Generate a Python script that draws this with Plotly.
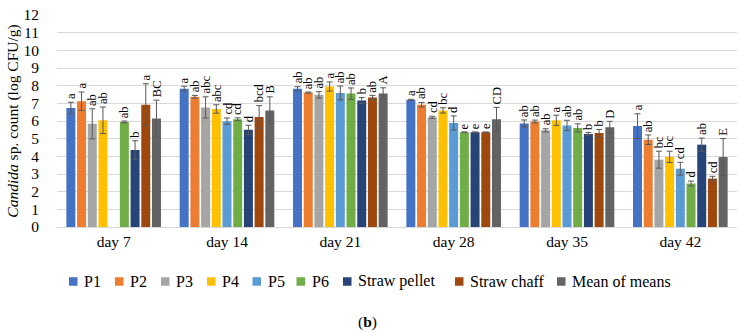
import plotly.graph_objects as go

days = ["day 7", "day 14", "day 21", "day 28", "day 35", "day 42"]
series = ["P1", "P2", "P3", "P4", "P5", "P6", "Straw pellet", "Straw chaff", "Mean of means"]
colors = ["#4472C4", "#ED7D31", "#A5A5A5", "#FFC000", "#5B9BD5", "#70AD47", "#264478", "#9E480E", "#636363"]

P1 = [6.73, 7.83, 7.82, 7.20, 5.86, 5.71]
P2 = [7.12, 7.37, 7.61, 6.92, 5.97, 4.94]
P3 = [5.84, 6.77, 7.48, 6.21, 5.47, 3.81]
P4 = [6.04, 6.68, 7.95, 6.60, 6.04, 3.97]
P5 = [None, 5.99, 7.59, 5.89, 5.75, 3.30]
P6 = [5.95, 6.10, 7.55, 5.37, 5.61, 2.46]
straw_pellet = [4.36, 5.50, 7.16, 5.37, 5.26, 4.66]
straw_chaff = [6.92, 6.23, 7.33, 5.37, 5.32, 2.74]
mean_of_means = [6.14, 6.60, 7.55, 6.10, 5.65, 3.96]

P1_err = [0.33, 0.14, 0.12, 0.03, 0.20, 0.70]
P2_err = [0.52, 0.08, 0.03, 0.13, 0.08, 0.27]
P3_err = [0.85, 0.60, 0.18, 0.06, 0.09, 0.48]
P4_err = [0.75, 0.24, 0.26, 0.15, 0.29, 0.32]
P5_err = [None, 0.18, 0.39, 0.40, 0.29, 0.36]
P6_err = [0.05, 0.08, 0.32, 0.0, 0.23, 0.14]
straw_pellet_err = [0.52, 0.26, 0.17, 0.0, 0.09, 0.37]
straw_chaff_err = [1.19, 0.64, 0.12, 0.0, 0.20, 0.13]
mean_of_means_err = [1.04, 0.77, 0.33, 0.67, 0.33, 1.05]

P1_lbl = ["a", "a", "ab", "a", "ab", "a"]
P2_lbl = ["a", "ab", "ab", "ab", "ab", "ab"]
P3_lbl = ["ab", "abc", "ab", "cd", "ab", "bc"]
P4_lbl = ["ab", "abc", "a", "bc", "a", "bc"]
P5_lbl = ["", "cd", "ab", "d", "ab", "cd"]
P6_lbl = ["ab", "cd", "ab", "e", "ab", "d"]
straw_pellet_lbl = ["b", "d", "b", "e", "b", "ab"]
straw_chaff_lbl = ["a", "bcd", "ab", "e", "b", "cd"]
mean_of_means_lbl = ["BC", "B", "A", "CD", "D", "E"]

values = [P1, P2, P3, P4, P5, P6, straw_pellet, straw_chaff, mean_of_means]
errors = [P1_err, P2_err, P3_err, P4_err, P5_err, P6_err, straw_pellet_err, straw_chaff_err, mean_of_means_err]
labels = [P1_lbl, P2_lbl, P3_lbl, P4_lbl, P5_lbl, P6_lbl, straw_pellet_lbl, straw_chaff_lbl, mean_of_means_lbl]

FONT = "Liberation Serif"
W, H = 743, 336
ML, MR, MT, MB = 57, 6, 13, 109
PW, PH = W - ML - MR, H - MT - MB
bargap = 0.15
bargroupgap = 0.16
xs = list(range(len(days)))

fig = go.Figure()
for name, col, v, e in zip(series, colors, values, errors):
    fig.add_trace(go.Bar(
        x=xs, y=v, name=name, showlegend=False,
        marker=dict(color=col, line=dict(width=0)),
        error_y=dict(type="data", array=[0 if a is None else a for a in e],
                     color="#595959", thickness=1, width=3),
    ))

n = len(series)
slot = (1 - bargap) / n
annotations = []
for j, (v, e, lb) in enumerate(zip(values, errors, labels)):
    off = -(1 - bargap) / 2 + (j + 0.5) * slot
    for i in xs:
        if v[i] is None or not lb[i]:
            continue
        annotations.append(dict(
            x=i + off, y=v[i] + (e[i] or 0), xref="x", yref="y",
            text=lb[i], textangle=-90, showarrow=False,
            yanchor="bottom", xanchor="center", yshift=1,
            font=dict(family=FONT, size=12.5, color="#000000"),
        ))

# Manual one-row legend (square swatch + label), positions in pixels
legend_px = [69, 115, 161, 207, 252.5, 296.5, 343, 455, 557]
legend_cy = 282
shapes = []
for name, col, px in zip(series, colors, legend_px):
    xc = (px - ML) / PW
    yc = (MT + PH - legend_cy) / PH
    shapes.append(dict(
        type="rect", xref="paper", yref="paper",
        xsizemode="pixel", ysizemode="pixel", xanchor=xc, yanchor=yc,
        x0=0, x1=8.5, y0=-4.25, y1=4.25,
        fillcolor=col, line=dict(width=0),
    ))
    annotations.append(dict(
        x=(px + 13 - ML) / PW, y=yc, xref="paper", yref="paper",
        text=name, showarrow=False, xanchor="left", yanchor="middle",
        font=dict(family=FONT, size=16, color="#000000"),
    ))

annotations.append(dict(
    x=(367 - ML) / PW, y=(MT + PH - 323) / PH, xref="paper", yref="paper",
    text="(<b>b</b>)", showarrow=False, xanchor="center", yanchor="middle",
    font=dict(family=FONT, size=15.5, color="#000000"),
))

fig.update_layout(
    width=W, height=H,
    margin=dict(l=ML, r=MR, t=MT, b=MB),
    paper_bgcolor="white", plot_bgcolor="white",
    barmode="group", bargap=bargap, bargroupgap=bargroupgap,
    font=dict(family=FONT, size=15, color="#000000"),
    xaxis=dict(
        tickvals=xs, ticktext=days, range=[-0.5, len(days) - 0.5],
        showgrid=False, showline=True, linecolor="#d9d9d9", linewidth=1,
        ticks="", ticklabelstandoff=0,
        tickfont=dict(family=FONT, size=15.5, color="#000000"),
    ),
    yaxis=dict(
        range=[0, 12], dtick=1, showgrid=True, gridcolor="#d9d9d9", gridwidth=1,
        zeroline=False, showline=False,
        ticks="outside", ticklen=14, tickcolor="rgba(0,0,0,0)",
        tickfont=dict(family=FONT, size=15.5, color="#000000"),
        title=dict(text="<i>Candida</i> sp. count (log CFU/g)", standoff=0,
                   font=dict(family=FONT, size=15.5, color="#000000")),
    ),
    shapes=shapes,
    annotations=annotations,
    showlegend=False,
)

fig.write_html(
    "out.html",
    config={"displayModeBar": False},
    post_script="document.body.style.margin='0';document.body.style.overflow='hidden';",
)
